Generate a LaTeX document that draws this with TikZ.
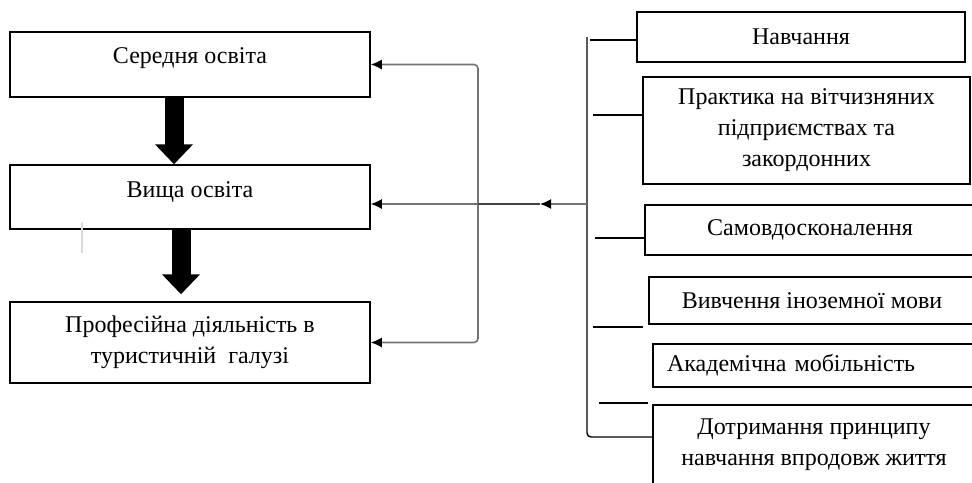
\documentclass[tikz,border=0pt]{standalone}
\usepackage{fontspec}
\setmainfont{Liberation Serif}
\usepackage{tikz}
\usetikzlibrary{arrows.meta}
\tikzstyle{lbox} = [
rectangle,
draw=black,
line width=1.5pt,
minimum width=360pt,
inner sep=0pt,
align=center,
font=\fontsize{24}{31}\selectfont
]
\tikzstyle{rbox} = [
rectangle,
draw=black,
line width=1.5pt,
inner sep=0pt,
align=center,
font=\fontsize{24}{31}\selectfont
]
\tikzstyle{bigarrow} = [
line width=19pt,
-{Triangle[width=37pt,length=20pt]},
draw=black
]
\tikzstyle{feed} = [
line width=1.6pt,
draw=black!55,
-{Latex[length=11pt,width=10pt,color=black]}
]
\tikzstyle{tick} = [
line width=1.4pt,
draw=black
]

\begin{document}
\begin{tikzpicture}[x=1pt,y=-1pt]
			\useasboundingbox (0,0) rectangle (972,482);
			
			\node (sec) [lbox, text height=31pt, text depth=34pt] at (190,64.5) {Середня освіта};
			
			\node (vys) [lbox, text height=32pt, text depth=32pt] at (190,197) {Вища освіта};
			
			\node (prof) [lbox, minimum height=81pt] at (190,342.5) {Професійна діяльність в\\ туристичній\ \ галузі};
			
			\node (r1) [rbox, minimum width=328pt, minimum height=50pt] at (801,37) {Навчання};
			
			\node (r2) [rbox, minimum width=327pt, minimum height=107pt] at (806.5,130.5) {Практика на вітчизняних\\ підприємствах та\\ закордонних};
			
			\node (r3) [rbox, minimum width=330pt, minimum height=50pt] at (810,230) {Самовдосконалення};
			
			\node (r4) [rbox, minimum width=326pt, minimum height=47pt] at (812,300.5) {Вивчення іноземної мови};
			
			\node (r5) [rbox, minimum height=43pt, text width=294pt, inner xsep=14pt, align=left] at (814,365.5) {Академічна мобільність};
			
			\node (r6) [rbox, minimum width=322pt, minimum height=80pt] at (814,445) {Дотримання принципу\\ навчання впродовж життя};
			
			\draw [bigarrow] ([xshift=-16pt]sec.south) -- ([xshift=-16pt]vys.north);
			\draw [bigarrow] ([xshift=-9pt]vys.south) -- ([xshift=-9pt,yshift=7pt]prof.north);
			
			% feedback bracket on the left
			\coordinate (jn) at (478,204);
			\draw [feed, rounded corners=4pt] (jn) |- (sec.east);
			\draw [feed] (jn) -- (vys.east |- jn);
			\draw [feed, rounded corners=4pt] (jn) |- (prof.east);
			
			% bracket of the right boxes
			\coordinate (rtop) at (587,37);
			\coordinate (rbot) at (587,437);
			\coordinate (rmid) at (587,204);
			\coordinate (tipm) at (540,204);
			\draw [tick, rounded corners=4pt] (rtop) |- (r6.west |- rbot);
			\draw [feed] (rmid) -- (tipm);
			\draw [line width=1.8pt, draw=black!75] (tipm) -- (jn);
			
			\coordinate (t1) at (590,40);
			\coordinate (t2) at (593,115);
			\coordinate (t3) at (595,238);
			\coordinate (t4) at (593,327);
			\coordinate (t5) at (599,403);
			\draw [tick] (t1) -- (t1 -| r1.west);
			\draw [tick] (t2) -- (t2 -| r2.west);
			\draw [tick] (t3) -- (t3 -| r3.west);
			\draw [tick] (t4) -- ++(50,0);
			\draw [tick] (t5) -- ++(49,0);
			
			\draw [black!15, line width=1.5pt] (82,222) -- (82,253);
			
		\end{tikzpicture}
\end{document}
